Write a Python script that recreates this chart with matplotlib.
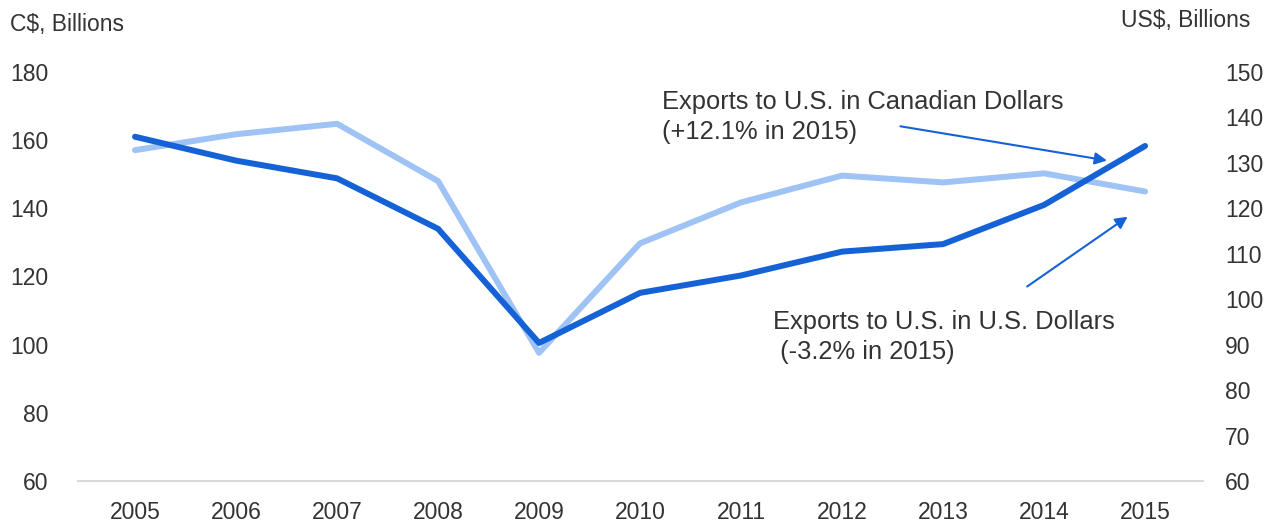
import matplotlib
matplotlib.use("Agg")
import matplotlib.pyplot as plt

plt.rcParams['font.family'] = ['Liberation Sans', 'DejaVu Sans']

years = [2005, 2006, 2007, 2008, 2009, 2010, 2011, 2012, 2013, 2014, 2015]
cad_exports = [161.0, 154.0, 148.8, 134.0, 100.5, 115.2, 120.3, 127.3, 129.5, 141.0, 158.3]
usd_exports = [132.8, 136.3, 138.6, 126.0, 88.2, 112.3, 121.3, 127.2, 125.7, 127.7, 123.7]
left_ticks = [60, 80, 100, 120, 140, 160, 180]
right_ticks = [60, 70, 80, 90, 100, 110, 120, 130, 140, 150]

dark = "#1462d6"
light = "#9ec3f4"
txt = "#333333"

fig = plt.figure(figsize=(12.77, 5.25), dpi=100)
ax = fig.add_axes([0.0611, 0.0838, 0.8810, 0.7791])
ax2 = ax.twinx()

ax.plot(years, cad_exports, color=dark, lw=4.3, solid_capstyle='round', zorder=3)
ax2.plot(years, usd_exports, color=light, lw=4.3, solid_capstyle='round', zorder=2)
ax.set_zorder(ax2.get_zorder() + 1)
ax.patch.set_visible(False)

ax.set_xlim(2004.436, 2015.574)
ax.set_ylim(60, 180)
ax2.set_ylim(60, 150)
ax.set_xticks(years)
ax.set_yticks(left_ticks)
ax2.set_yticks(right_ticks)

for a in (ax, ax2):
    for s in ('top', 'left', 'right'):
        a.spines[s].set_visible(False)
    a.spines['bottom'].set_color('#d9d9d9')
    a.spines['bottom'].set_linewidth(1.5)
ax2.spines['bottom'].set_visible(False)

ax.tick_params(axis='x', length=0, pad=14.5, labelsize=16.5, labelcolor=txt)
ax.tick_params(axis='y', length=0, pad=21, labelsize=16.5, labelcolor=txt)
ax2.tick_params(axis='y', length=0, pad=16, labelsize=16.5, labelcolor=txt)

fig.text(10 / 1277, 1 - 25 / 525, "C$, Billions", fontsize=16.5, color=txt, va='center', ha='left')
fig.text(1250 / 1277, 1 - 20 / 525, "US$, Billions", fontsize=16.5, color=txt, va='center', ha='right')

# annotations
ax.annotate("", xy=(2014.65, 153.9), xytext=(2012.55, 164.2),
            arrowprops=dict(arrowstyle='-|>', color=dark, lw=1.5, mutation_scale=18))
ax.text(2010.22, 166.8, "Exports to U.S. in Canadian Dollars\n(+12.1% in 2015)",
        fontsize=18.4, color=txt, va='center', ha='left', linespacing=1.3)

ax.annotate("", xy=(2014.85, 138.0), xytext=(2013.81, 116.6),
            arrowprops=dict(arrowstyle='-|>', color=dark, lw=1.5, mutation_scale=18))
ax.text(2011.32, 102.2, "Exports to U.S. in U.S. Dollars\n (-3.2% in 2015)",
        fontsize=18.4, color=txt, va='center', ha='left', linespacing=1.3)

fig.savefig("out.png", dpi=100)
